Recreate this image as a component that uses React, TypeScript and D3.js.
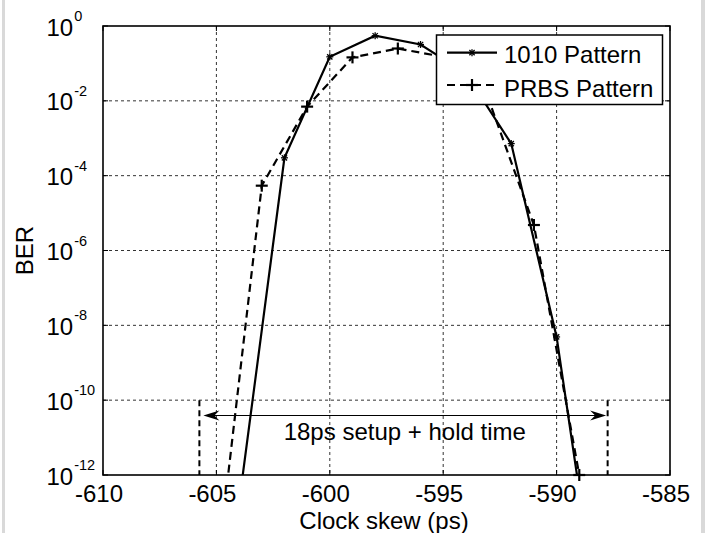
import React from "react";
import * as d3 from "d3";

// ---- data ----
const skew1010: number[] = [-604, -602, -600, -598, -596, -594, -592, -590, -588];
const ber1010: number[] = [1.8e-13, 3.0e-4, 0.15, 0.55, 0.32, 0.054, 7.2e-4, 4.9e-9, 3e-17];
const skewPRBS: number[] = [-605, -603, -601, -599, -597, -595, -593, -591, -589];
const berPRBS: number[] = [2e-15, 5.4e-5, 7.0e-3, 0.145, 0.25, 0.15, 1.1e-2, 4.8e-6, 1.0e-12];
const xTicks: number[] = [-610, -605, -600, -595, -590, -585];
const yTickExps: number[] = [0, -2, -4, -6, -8, -10, -12];
const seriesNames: string[] = ["1010 Pattern", "PRBS Pattern"];
const windowEdges: number[] = [-605.75, -587.75];
const windowLabel = "18ps setup + hold time";
const windowTopBER = 1e-10;
const arrowBER = 10 ** -10.41;

const W = 708;
const H = 533;
const FONT = "'Liberation Sans', Arial, Helvetica, sans-serif";
const FS = 24;

export default function App() {
  const left = 103, right = 670, top = 26, bottom = 475;
  const x = d3.scaleLinear().domain([-610, -585]).range([left, right]);
  const y = d3.scaleLog().domain([1e-12, 1]).range([bottom, top]);

  const line = d3
    .line<[number, number]>()
    .x((d) => x(d[0]))
    .y((d) => y(d[1]));

  const pts1010: [number, number][] = skew1010.map((s, i) => [s, ber1010[i]]);
  const ptsPRBS: [number, number][] = skewPRBS.map((s, i) => [s, berPRBS[i]]);
  const inRange = (d: [number, number]) => d[1] >= 1e-12 * 0.999 && d[1] <= 1;

  const starMarker = (cx: number, cy: number, k: number) => {
    const r = 3.5;
    return (
      <g key={k} stroke="#000" strokeWidth={1.3}>
        <line x1={cx - r} y1={cy} x2={cx + r} y2={cy} />
        <line x1={cx} y1={cy - r} x2={cx} y2={cy + r} />
        <line x1={cx - r * 0.75} y1={cy - r * 0.75} x2={cx + r * 0.75} y2={cy + r * 0.75} />
        <line x1={cx - r * 0.75} y1={cy + r * 0.75} x2={cx + r * 0.75} y2={cy - r * 0.75} />
      </g>
    );
  };
  const plusMarker = (cx: number, cy: number, k: number) => {
    const r = 6;
    return (
      <g key={k} stroke="#000" strokeWidth={2.2}>
        <line x1={cx - r} y1={cy} x2={cx + r} y2={cy} />
        <line x1={cx} y1={cy - r} x2={cx} y2={cy + r} />
      </g>
    );
  };

  const gridX = xTicks.slice(1, -1);
  const gridY = yTickExps.slice(1, -1);

  const xa = x(windowEdges[0]);
  const xb = x(windowEdges[1]);
  const ya = y(arrowBER);
  const tipL = xa + 4;
  const tipR = xb - 1.5;
  const arrowHead = (tx: number, dir: number) => {
    const L = 16, hw = 5, notch = 11;
    return `M${tx},${ya} L${tx + dir * L},${ya - hw} L${tx + dir * notch},${ya} L${tx + dir * L},${ya + hw} Z`;
  };

  return (
    <svg
      width={W}
      height={H}
      style={{ position: "absolute", left: 0, top: 0, background: "#fff" }}
      fontFamily={FONT}
    >
      <rect x={0} y={0} width={W} height={H} fill="#fff" />
      <rect x={2} y={0} width={3} height={H} fill="#d9d9d9" />
      <rect x={701} y={0} width={4} height={H} fill="#d9d9d9" />

      <defs>
        <clipPath id="plotclip">
          <rect x={left} y={top} width={right - left} height={bottom - top} />
        </clipPath>
      </defs>

      {/* grid */}
      {gridX.map((t) => (
        <line key={"gx" + t} x1={x(t)} x2={x(t)} y1={top} y2={bottom} stroke="#333" strokeWidth={1} strokeDasharray="3,3" />
      ))}
      {gridY.map((e) => (
        <line key={"gy" + e} x1={left} x2={right} y1={y(10 ** e)} y2={y(10 ** e)} stroke="#333" strokeWidth={1} strokeDasharray="3,3" />
      ))}

      {/* ticks */}
      {xTicks.map((t) => (
        <g key={"tx" + t}>
          <line x1={x(t)} x2={x(t)} y1={bottom} y2={bottom - 5} stroke="#000" />
          <line x1={x(t)} x2={x(t)} y1={top} y2={top + 5} stroke="#000" />
        </g>
      ))}
      {yTickExps.map((e) => (
        <g key={"ty" + e}>
          <line x1={left} x2={left + 5} y1={y(10 ** e)} y2={y(10 ** e)} stroke="#000" />
          <line x1={right} x2={right - 5} y1={y(10 ** e)} y2={y(10 ** e)} stroke="#000" />
        </g>
      ))}

      {/* data lines */}
      <g clipPath="url(#plotclip)" fill="none" stroke="#000" strokeWidth={2.2}>
        <path d={line(pts1010) || ""} />
        <path d={line(ptsPRBS) || ""} strokeDasharray="8,5" />
      </g>
      {pts1010.filter(inRange).map((d, i) => starMarker(x(d[0]), y(d[1]), i))}
      {ptsPRBS.filter(inRange).map((d, i) => plusMarker(x(d[0]), y(d[1]), 100 + i))}

      {/* annotation */}
      {[xa, xb].map((xx, i) => (
        <line key={"we" + i} x1={xx} x2={xx} y1={y(windowTopBER)} y2={bottom} stroke="#000" strokeWidth={2} strokeDasharray="6,4" />
      ))}
      <line x1={tipL + 8} x2={tipR - 8} y1={ya} y2={ya} stroke="#000" strokeWidth={1} />
      <path d={arrowHead(tipL, 1)} fill="#000" />
      <path d={arrowHead(tipR, -1)} fill="#000" />
      <text x={(tipL + tipR) / 2} y={ya + 24.5} fontSize={FS} textAnchor="middle" fill="#000">
        {windowLabel}
      </text>

      {/* axes box */}
      <rect x={left} y={top} width={right - left} height={bottom - top} fill="none" stroke="#000" strokeWidth={1.6} />

      {/* tick labels */}
      {xTicks.map((t) => (
        <text key={"lx" + t} x={x(t) - 4} y={501.5} fontSize={FS} textAnchor="middle" fill="#000">
          {t}
        </text>
      ))}
      {yTickExps.map((e) => (
        <text key={"ly" + e} x={46.5} y={y(10 ** e) + 9.5} fontSize={FS} fill="#000">
          10
          <tspan dx={1} dy={-14.5} fontSize={14.5}>
            {e}
          </tspan>
        </text>
      ))}

      {/* axis labels */}
      <text x={384} y={529} fontSize={FS} textAnchor="middle" fill="#000">
        Clock skew (ps)
      </text>
      <text transform={`translate(33,${(top + bottom) / 2}) rotate(-90)`} fontSize={FS} textAnchor="middle" fill="#000">
        BER
      </text>

      {/* legend */}
      <rect x={436.5} y={35} width={226} height={69.5} fill="#fff" stroke="#000" strokeWidth={1.5} />
      <line x1={447} x2={497} y1={52.7} y2={52.7} stroke="#000" strokeWidth={2.2} />
      {starMarker(472, 52.7, 900)}
      <text x={504} y={63.3} fontSize={FS} fill="#000">{seriesNames[0]}</text>
      <line x1={447} x2={497} y1={85} y2={85} stroke="#000" strokeWidth={2.2} strokeDasharray="8,5" />
      {plusMarker(472, 85, 901)}
      <text x={504} y={96.5} fontSize={FS} fill="#000">{seriesNames[1]}</text>
    </svg>
  );
}
